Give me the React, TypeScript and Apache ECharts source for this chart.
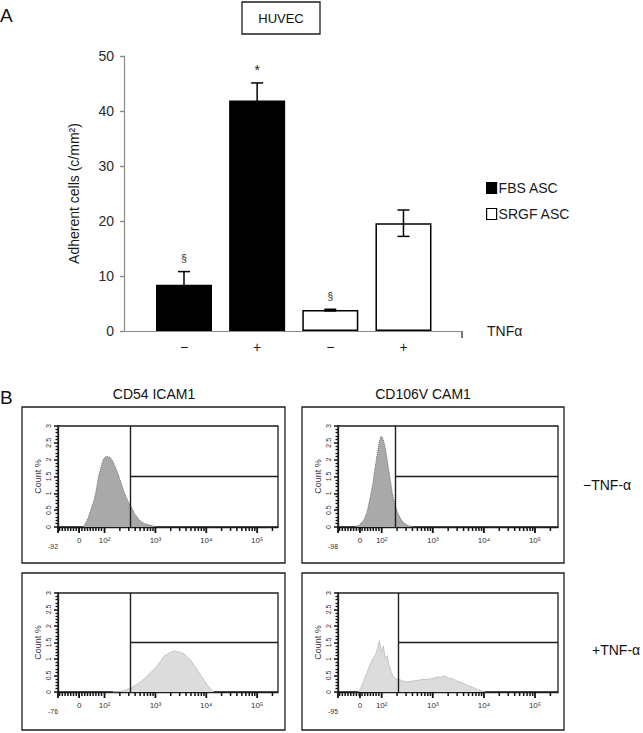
import React, { useEffect, useRef } from "react";
import * as echarts from "echarts";

// ---------- Panel A data ----------
const tnfLabels = ["−", "+", "−", "+"];
const barPositions = [1, 2, 3, 4];
const fbsValues = [8.4, 41.9];
const srgfValues = [3.8, 19.6];
const errLow = [6.0, 38.7, 3.65, 17.2];
const errHigh = [10.8, 45.1, 3.95, 22.0];
const sigMarkers = ["§", "*", "§", ""];
const legendNames = ["FBS ASC", "SRGF ASC"];

// ---------- Panel B data (x in log-decade display units, y in Count %) ----------
const cd54NoTnfU = [1.58, 1.62, 1.673, 1.739, 1.804, 1.837, 1.882, 1.935, 1.974, 2.013, 2.065, 2.118, 2.163, 2.209, 2.261, 2.327, 2.392, 2.457, 2.523, 2.588, 2.686, 2.784, 2.915, 3.013];
const cd54NoTnfV = [0, 0.1, 0.25, 0.55, 0.85, 1.1, 1.5, 1.8, 2.0, 2.08, 2.1, 2.05, 1.95, 1.8, 1.6, 1.3, 1.0, 0.78, 0.6, 0.4, 0.2, 0.1, 0.05, 0];
const cd106NoTnfU = [1.48, 1.556, 1.651, 1.715, 1.778, 1.829, 1.873, 1.917, 1.955, 1.987, 2.018, 2.063, 2.107, 2.158, 2.208, 2.253, 2.316, 2.411, 2.506, 2.62];
const cd106NoTnfV = [0, 0.05, 0.2, 0.45, 0.9, 1.3, 1.8, 2.2, 2.55, 2.7, 2.65, 2.4, 2.0, 1.5, 1.0, 0.7, 0.4, 0.15, 0.05, 0];
const cd54TnfU = [2.16, 2.327, 2.39, 2.523, 2.654, 2.784, 2.915, 3.013, 3.111, 3.176, 3.242, 3.307, 3.373, 3.438, 3.503, 3.569, 3.634, 3.699, 3.765, 3.83, 3.895, 3.961, 4.026, 4.092, 4.144];
const cd54TnfV = [0, 0.02, 0.05, 0.12, 0.25, 0.4, 0.6, 0.75, 0.95, 1.1, 1.15, 1.2, 1.25, 1.22, 1.2, 1.15, 1.05, 0.95, 0.8, 0.65, 0.5, 0.35, 0.2, 0.08, 0];
const cd106TnfU = [1.55, 1.588, 1.651, 1.715, 1.778, 1.841, 1.873, 1.917, 1.955, 1.993, 2.031, 2.069, 2.107, 2.145, 2.189, 2.234, 2.284, 2.347, 2.411, 2.506, 2.601, 2.696, 2.791, 2.886, 2.98, 3.075, 3.17, 3.233, 3.297, 3.392, 3.487, 3.582, 3.677, 3.772, 3.867, 3.962, 4.025];
const cd106TnfV = [0, 0.1, 0.35, 0.6, 0.85, 1.05, 1.1, 1.3, 1.55, 1.2, 1.4, 1.0, 1.1, 0.8, 0.6, 0.45, 0.4, 0.38, 0.33, 0.3, 0.33, 0.35, 0.38, 0.38, 0.4, 0.45, 0.45, 0.5, 0.42, 0.4, 0.32, 0.28, 0.2, 0.15, 0.08, 0.03, 0];

const decadePositions = [2, 3, 4, 5];
const decadeLabels = ["10²", "10³", "10⁴", "10⁵"];
const zeroLabel = "0";
const minLabels = ["-92", "-98", "-76", "-95"];
const gatePositions = [2.5, 2.26, 2.51, 2.33];
const gateLevel = 1.5;
const columnTitles = ["CD54 ICAM1", "CD106V CAM1"];
const rowTitles = ["−TNF-α", "+TNF-α"];

const FONT = "Liberation Sans, Arial, Helvetica, sans-serif";

export default function App() {
  const ref = useRef<HTMLDivElement>(null);

  useEffect(() => {
    if (!ref.current) return;
    const chart = echarts.init(ref.current, null, { renderer: "svg" });

    const panels = [
      { left: 58, top: 426, height: 101, uMin: 1.085, uMax: 5.41, uZero: 1.5, u: cd54NoTnfU, v: cd54NoTnfV, fill: "#a9a9a9", line: "#6b6b6b", dotted: true },
      { left: 338, top: 426, height: 101, uMin: 1.145, uMax: 5.45, uZero: 1.575, u: cd106NoTnfU, v: cd106NoTnfV, fill: "#a9a9a9", line: "#6b6b6b", dotted: true },
      { left: 58, top: 593, height: 99, uMin: 1.085, uMax: 5.41, uZero: 1.5, u: cd54TnfU, v: cd54TnfV, fill: "#dcdcdc", line: "#c4c4c4", dotted: false },
      { left: 338, top: 593, height: 99, uMin: 1.145, uMax: 5.45, uZero: 1.575, u: cd106TnfU, v: cd106TnfV, fill: "#dcdcdc", line: "#c4c4c4", dotted: false },
    ];

    const grids: any[] = [{ left: 124, top: 56, width: 338, height: 275 }];
    const xAxes: any[] = [
      {
        type: "value",
        gridIndex: 0,
        min: 0.18,
        max: 4.8,
        splitLine: { show: false },
        axisLine: { show: true, lineStyle: { color: "#8a8a8a", width: 1.2 } },
        axisTick: { show: false },
        axisLabel: {
          customValues: barPositions,
          formatter: (v: number) => tnfLabels[barPositions.indexOf(Math.round(v))] ?? "",
          fontSize: 14,
          color: "#1a1a1a",
          fontFamily: FONT,
          margin: 9,
        },
        name: "TNFα",
        nameLocation: "end",
        nameGap: 25,
        nameTextStyle: { fontSize: 14, color: "#1a1a1a", fontFamily: FONT, padding: [30, 0, 0, 0], align: "left" },
      },
    ];
    const yAxes: any[] = [
      {
        type: "value",
        gridIndex: 0,
        min: 0,
        max: 50,
        interval: 10,
        splitLine: { show: false },
        axisLine: { show: true, lineStyle: { color: "#8a8a8a", width: 1.2 } },
        axisTick: { show: true, length: 4, lineStyle: { color: "#8a8a8a", width: 1.4 } },
        axisLabel: { fontSize: 14, color: "#2a2a2a", fontFamily: FONT, margin: 10 },
        name: "Adherent cells (c/mm²)",
        nameLocation: "middle",
        nameGap: 43,
        nameTextStyle: { fontSize: 14, color: "#1a1a1a", fontFamily: FONT },
      },
    ];

    const series: any[] = [
      {
        type: "bar",
        name: legendNames[0],
        xAxisIndex: 0,
        yAxisIndex: 0,
        barWidth: 56,
        barGap: "-100%",
        data: fbsValues.map((v, i) => [barPositions[i], v]),
        itemStyle: { color: "#000", borderColor: "#000", borderWidth: 1.5 },
        z: 2,
      },
      {
        type: "bar",
        name: legendNames[1],
        xAxisIndex: 0,
        yAxisIndex: 0,
        barWidth: 56,
        barGap: "-100%",
        data: srgfValues.map((v, i) => [barPositions[i + 2], v]),
        itemStyle: { color: "#fff", borderColor: "#000", borderWidth: 1.5 },
        z: 2,
      },
      {
        type: "custom",
        xAxisIndex: 0,
        yAxisIndex: 0,
        z: 5,
        silent: true,
        data: barPositions.map((x, i) => [x, errLow[i], errHigh[i]]),
        renderItem: (params: any, api: any) => {
          const x = api.value(0);
          const lo = api.coord([x, api.value(1)]);
          const hi = api.coord([x, api.value(2)]);
          const half = 6;
          const st = { stroke: "#000", lineWidth: 1.5 };
          const mk = sigMarkers[params.dataIndex];
          return {
            type: "group",
            children: [
              { type: "line", shape: { x1: hi[0], y1: hi[1], x2: lo[0], y2: lo[1] }, style: st },
              { type: "line", shape: { x1: hi[0] - half, y1: hi[1], x2: hi[0] + half, y2: hi[1] }, style: st },
              { type: "line", shape: { x1: lo[0] - half, y1: lo[1], x2: lo[0] + half, y2: lo[1] }, style: st },
              {
                type: "text",
                x: hi[0],
                y: hi[1] - 13,
                style: { text: mk, fill: "#222", fontSize: mk === "*" ? 14 : 10, fontFamily: FONT, align: "center", verticalAlign: "middle" },
              },
            ],
          };
        },
      },
      // small tick at the right end of the panel A x axis
      {
        type: "custom",
        xAxisIndex: 0,
        yAxisIndex: 0,
        silent: true,
        z: 6,
        data: [[4.8, 0]],
        renderItem: (_p: any, api: any) => {
          const c = api.coord([api.value(0), api.value(1)]);
          return {
            type: "group",
            children: [{ type: "line", shape: { x1: c[0], y1: c[1], x2: c[0], y2: c[1] + 7 }, style: { stroke: "#777", lineWidth: 2 } }],
          };
        },
      },
    ];

    const linearTicks = (a: number) => {
      const out: number[] = [];
      for (let t = a + 0.03; t < 1.97; t += 0.055) out.push(+t.toFixed(3));
      return out;
    };
    const logMinor = (uMax: number) => {
      const out: number[] = [];
      for (let k = 2; k <= 5; k++) for (let m = 2; m <= 9; m++) {
        const p = k + Math.log10(m);
        if (p < uMax) out.push(+p.toFixed(3));
      }
      return out;
    };

    panels.forEach((p, i) => {
      const gi = i + 1;
      grids.push({ left: p.left, top: p.top, width: 220, height: p.height, show: true, borderColor: "#1e1e1e", borderWidth: 1.3 });
      xAxes.push({
        type: "value",
        gridIndex: gi,
        min: p.uMin,
        max: p.uMax,
        splitLine: { show: false },
        axisLine: { show: true, onZero: false, lineStyle: { color: "#1e1e1e", width: 1.3 } },
        axisTick: { show: false },
        axisLabel: {
          customValues: decadePositions,
          fontSize: 8,
          color: "#333",
          fontFamily: FONT,
          margin: 9,
          formatter: (val: number) => {
            const k = decadePositions.findIndex((d) => Math.abs(d - val) < 1e-6);
            return k >= 0 ? decadeLabels[k] : "";
          },
        },
      });
      yAxes.push({
        type: "value",
        gridIndex: gi,
        min: 0,
        max: 3,
        interval: 0.5,
        splitLine: { show: false },
        axisLine: { show: true, lineStyle: { color: "#1e1e1e", width: 1.3 } },
        axisTick: { show: true, length: 4, lineStyle: { color: "#111", width: 1.5 } },
        minorTick: { show: true, splitNumber: 5, length: 2.5, lineStyle: { color: "#111", width: 1.3 } },
        axisLabel: { fontSize: 7, color: "#333", fontFamily: FONT, rotate: 90, margin: 6 },
        name: "Count %",
        nameLocation: "middle",
        nameGap: 16,
        nameTextStyle: { fontSize: 9, color: "#333", fontFamily: FONT },
      });
      series.push({
        type: "line",
        xAxisIndex: gi,
        yAxisIndex: gi,
        data: p.u.map((u, j) => [u, p.v[j]]),
        symbol: "none",
        smooth: false,
        silent: true,
        lineStyle: { color: p.line, width: 1, type: p.dotted ? "dotted" : "solid" },
        areaStyle: { color: p.fill, opacity: 1 },
        markLine: {
          silent: true,
          symbol: ["none", "none"],
          label: { show: false },
          lineStyle: { color: "#1e1e1e", width: 1.4, type: "solid" },
          data: [
            [{ coord: [gatePositions[i], 0] }, { coord: [gatePositions[i], 3] }],
            [{ coord: [gatePositions[i], gateLevel] }, { coord: [p.uMax, gateLevel] }],
          ],
        },
      });
      // x-axis ticks of the cytometry histogram (major 6 px, minor 4 px) plus the "min" and "0" labels
      const tickData = [
        ...[p.uMin, p.uZero, ...decadePositions].map((t) => [t, 0, 6]),
        ...[...linearTicks(p.uMin), ...logMinor(p.uMax)].map((t) => [t, 0, 4]),
      ];
      series.push({
        type: "custom",
        xAxisIndex: gi,
        yAxisIndex: gi,
        silent: true,
        z: 6,
        data: tickData,
        renderItem: (params: any, api: any) => {
          const c = api.coord([api.value(0), 0]);
          const len = api.value(2);
          const children: any[] = [
            { type: "line", shape: { x1: c[0], y1: c[1], x2: c[0], y2: c[1] + len }, style: { stroke: "#111", lineWidth: len > 5 ? 1.8 : 1.5 } },
          ];
          if (params.dataIndex === 0) {
            children.push({
              type: "text",
              x: c[0] - 5,
              y: c[1] + 19,
              style: { text: minLabels[i], fill: "#333", fontSize: 7, fontFamily: FONT, align: "center", verticalAlign: "middle" },
            });
          }
          if (params.dataIndex === 1) {
            children.push({
              type: "text",
              x: c[0],
              y: c[1] + 13,
              style: { text: zeroLabel, fill: "#333", fontSize: 8, fontFamily: FONT, align: "center", verticalAlign: "middle" },
            });
          }
          return { type: "group", children };
        },
      });
    });

    const txt = (text: string, x: number, y: number, size: number, align = "left") => ({
      type: "text",
      x,
      y,
      silent: true,
      style: { text, fill: "#111", fontSize: size, fontFamily: FONT, align, verticalAlign: "middle" },
    });
    const box = (x: number, y: number, w: number, h: number) => ({
      type: "rect",
      shape: { x, y, width: w, height: h },
      silent: true,
      style: { fill: "none", stroke: "#1e1e1e", lineWidth: 1.3 },
    });

    const option: any = {
      animation: false,
      backgroundColor: "#fff",
      textStyle: { fontFamily: FONT },
      grid: grids,
      xAxis: xAxes,
      yAxis: yAxes,
      legend: {
        data: legendNames,
        orient: "vertical",
        left: 481,
        top: 176,
        icon: "rect",
        itemWidth: 10,
        itemHeight: 11,
        itemGap: 12,
        itemStyle: { borderColor: "#000", borderWidth: 1.2 },
        textStyle: { fontSize: 14, color: "#1a1a1a", fontFamily: FONT, padding: [0, 0, 0, -3] },
        selectedMode: false,
      },
      graphic: [
        txt("A", 0, 15, 19),
        box(242, 2, 78, 32),
        txt("HUVEC", 281, 18, 13, "center"),
        txt("B", 0, 397, 19),
        txt(columnTitles[0], 154, 394, 14, "center"),
        txt(columnTitles[1], 423, 394, 14, "center"),
        txt(rowTitles[0], 583, 485, 14),
        txt(rowTitles[1], 592, 650, 14),
        box(22, 407, 263, 156),
        box(302, 407, 262, 156),
        box(22, 573, 263, 157),
        box(302, 573, 262, 157),
      ],
      series,
    };

    chart.setOption(option);
    return () => chart.dispose();
  }, []);

  return <div ref={ref} style={{ position: "fixed", left: 0, top: 0, width: 643, height: 733 }} />;
}
